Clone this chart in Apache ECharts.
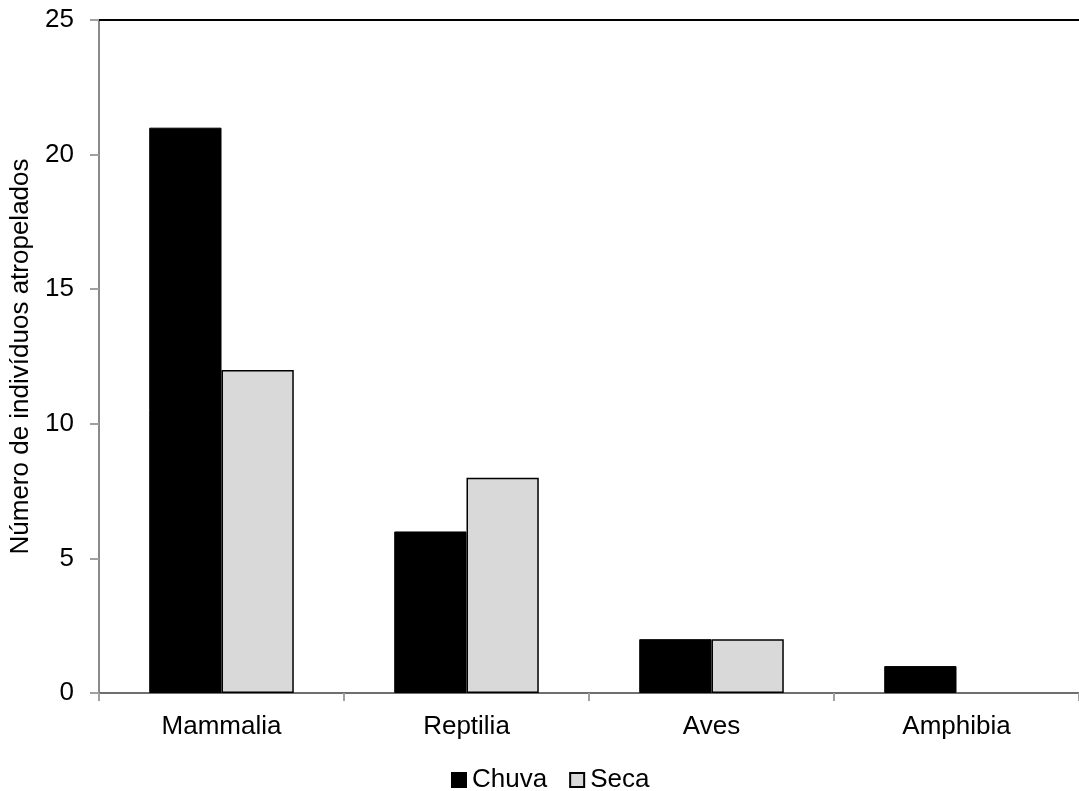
<!DOCTYPE html>
<html>
<head>
<meta charset="utf-8">
<script src="https://cdn.jsdelivr.net/npm/echarts@6/dist/echarts.min.js"></script>
<style>
  html, body { margin: 0; padding: 0; background: #fff; }
  #chart { width: 1079px; height: 791px; }
</style>
</head>
<body>
<div id="chart"></div>
<script>
// dados
const categorias = ['Mammalia', 'Reptilia', 'Aves', 'Amphibia'];
const chuva = [21, 6, 2, 1];
const seca = [12, 8, 2, 0];
const yTicks = [0, 5, 10, 15, 20, 25];

const chart = echarts.init(document.getElementById('chart'));

const fonte = 'Liberation Sans, Arial, sans-serif';

// barra de valor zero sem contorno
const secaDados = seca.map(v => v === 0 ? { value: v, itemStyle: { borderWidth: 0 } } : v);

const option = {
    animation: false,
    grid: { left: 99, right: 0, top: 20, bottom: 98 },
    legend: {
        top: 767,
        left: 451,
        padding: 0,
        itemWidth: 14,
        itemHeight: 14,
        itemGap: 22,
        icon: 'rect',
        textStyle: { fontFamily: fonte, fontSize: 26, color: '#000', padding: [0, 0, 0, 1] },
        data: ['Chuva', 'Seca']
    },
    xAxis: [
        {
            type: 'category',
            data: categorias,
            axisLine: { lineStyle: { color: '#6e6e6e', width: 2 } },
            axisTick: { show: true, length: 8, lineStyle: { color: '#a0a0a0', width: 2 } },
            axisLabel: { fontFamily: fonte, fontSize: 26, color: '#000', margin: 21 }
        },
        {
            type: 'category',
            position: 'top',
            data: categorias,
            axisLine: { lineStyle: { color: '#000', width: 2 } },
            axisTick: { show: false },
            axisLabel: { show: false }
        }
    ],
    yAxis: {
        type: 'value',
        min: yTicks[0],
        max: yTicks[yTicks.length - 1],
        interval: 5,
        name: 'Número de indivíduos atropelados',
        nameLocation: 'middle',
        nameGap: 63,
        nameTextStyle: { fontFamily: fonte, fontSize: 26, color: '#000' },
        axisLine: { show: true, lineStyle: { color: '#8a8a8a', width: 2 } },
        axisTick: { show: true, length: 9, lineStyle: { color: '#a0a0a0', width: 2 } },
        axisLabel: { fontFamily: fonte, fontSize: 26, color: '#000', margin: 25 },
        splitLine: { show: false }
    },
    series: [
        {
            name: 'Chuva',
            type: 'bar',
            data: chuva,
            barGap: '0%',
            barCategoryGap: '41%',
            itemStyle: { color: '#000', borderColor: '#000', borderWidth: 1 }
        },
        {
            name: 'Seca',
            type: 'bar',
            data: secaDados,
            itemStyle: { color: '#d9d9d9', borderColor: '#000', borderWidth: 1.5 }
        }
    ]
};

chart.setOption(option);
</script>
</body>
</html>
